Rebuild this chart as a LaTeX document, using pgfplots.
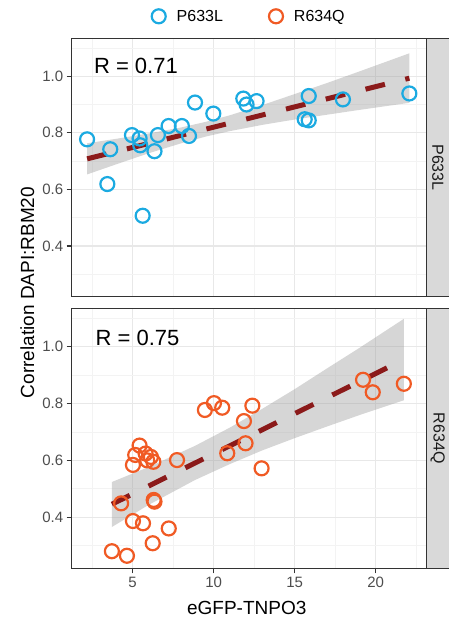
\documentclass[border=0pt]{standalone}
\usepackage{fontspec}
\setmainfont{Liberation Sans}
\usepackage{pgfplots}
\pgfplotsset{compat=1.18}

\definecolor{cblue}{RGB}{27,170,225}
\definecolor{corange}{RGB}{240,90,36}
\definecolor{fitred}{RGB}{139,26,26}
\definecolor{bandgray}{RGB}{153,153,153}
\definecolor{stripgray}{RGB}{217,217,217}
\definecolor{border}{RGB}{51,51,51}
\definecolor{tickgray}{RGB}{77,77,77}
\definecolor{gridmajor}{RGB}{232,232,232}
\definecolor{gridminor}{RGB}{243,243,243}

\pgfplotsset{
  panel/.style={
    scale only axis, width=355pt, anchor=south west,
    xmin=1.24, xmax=23.15, ymin=0.221, ymax=1.134,
    xtick={5,10,15,20}, minor xtick={2.5,7.5,12.5,17.5,22.5},
    ytick={0.4,0.6,0.8,1.0}, minor ytick={0.3,0.5,0.7,0.9,1.1},
    grid=both,
    major grid style={draw=gridmajor, line width=1.2pt},
    minor grid style={draw=gridminor, line width=0.7pt},
    axis line style={draw=border, line width=1.5pt},
    tick align=outside, tick pos=left,
    major tick length=5pt, minor tick length=0pt,
    tick style={draw=border, line width=1.2pt},
    /pgf/number format/assume math mode=true,
    yticklabel style={font=\fontsize{15}{18}\selectfont, text=tickgray,
      /pgf/number format/.cd, fixed, fixed zerofill, precision=1},
    xticklabel style={font=\fontsize{15}{18}\selectfont, text=tickgray},
    clip=false,
  },
  pts/.style={only marks, mark=o, mark size=7pt, line width=2.2pt},
  band/.style={draw=none, fill=bandgray, fill opacity=0.4, forget plot},
  fit/.style={fitred, line width=5pt, dash pattern=on 20pt off 21pt, forget plot},
}

\begin{document}
\begin{tikzpicture}
\path[use as bounding box] (0pt,0pt) rectangle (449pt,618pt);

% strips
\filldraw[fill=stripgray, draw=border, line width=1.5pt] (426.7pt,321.3pt) rectangle (452pt,579.7pt);
\filldraw[fill=stripgray, draw=border, line width=1.5pt] (426.7pt,49.7pt) rectangle (452pt,309.7pt);
\node[rotate=-90, font=\fontsize{16}{19}\selectfont, text={rgb,255:red,26;green,26;blue,26}] at (437.8pt,450.5pt) {P633L};
\node[rotate=-90, font=\fontsize{16}{19}\selectfont, text={rgb,255:red,26;green,26;blue,26}] at (437.8pt,179.7pt) {R634Q};

% top panel
\begin{axis}[panel, at={(71.7pt,321.3pt)}, height=258.4pt,
  xticklabels={}, x tick style={draw=none},
  legend columns=2,
  legend style={at={(0.5,1)}, anchor=center, yshift=22pt, draw=none, fill=none,
    font=\fontsize{16}{19}\selectfont,
    /tikz/every odd column/.append style={column sep=9pt},
    /tikz/every even column/.append style={column sep=44pt}},
]
\addplot[pts, cblue] coordinates {
(2.19,0.777) (3.62,0.742) (3.44,0.619) (5.62,0.507) (4.96,0.792) (5.43,0.780)
(5.47,0.756) (6.35,0.735) (6.56,0.792) (7.22,0.824) (8.04,0.824) (8.48,0.789)
(8.85,0.907) (9.98,0.868) (11.83,0.921) (12.03,0.900) (12.65,0.912)
(15.87,0.930) (15.62,0.848) (15.87,0.844) (17.98,0.918) (22.08,0.939)
};
\addlegendentry{P633L}
\addplot[band] coordinates {
(2.19,0.763) (4,0.779) (6,0.798) (8,0.819) (9.53,0.839) (11,0.862) (13,0.898)
(15,0.937) (17,0.976) (19,1.017) (22.08,1.081)
(22.08,0.906) (19,0.881) (17,0.864) (15,0.847) (13,0.828) (11,0.806) (9.53,0.787)
(8,0.763) (6,0.728) (4,0.689) (2.19,0.653)
} -- cycle;
\addplot[fit] coordinates {(2.19,0.708) (22.08,0.993)};
\addlegendimage{pts, corange}
\addlegendentry{R634Q}
\node[anchor=west, font=\fontsize{22}{26}\selectfont] at (axis cs:2.4,1.035) {R = 0.71};
\end{axis}

% bottom panel
\begin{axis}[panel, at={(71.7pt,49.7pt)}, height=260pt]
\addplot[pts, corange] coordinates {
(3.72,0.281) (4.65,0.265) (4.29,0.449) (5.02,0.387) (5.64,0.379) (6.24,0.309)
(7.23,0.361) (6.30,0.461) (6.35,0.455) (5.02,0.584) (5.16,0.619) (5.43,0.652)
(5.80,0.624) (6.13,0.612) (6.28,0.595) (5.90,0.600) (7.74,0.601) (9.46,0.777)
(10.02,0.801) (10.53,0.785) (11.87,0.738) (12.39,0.792) (10.84,0.625)
(11.97,0.660) (12.96,0.572) (19.22,0.883) (19.82,0.839) (21.74,0.869)
};
\addplot[band] coordinates {
(3.72,0.524) (6,0.577) (8.85,0.651) (11,0.715) (13,0.781) (15,0.850) (17,0.923)
(19,0.995) (21.74,1.097)
(21.74,0.811) (19,0.759) (17,0.719) (15,0.678) (13,0.635) (11,0.587) (8.85,0.531)
(6,0.444) (3.72,0.366)
} -- cycle;
\addplot[fit] coordinates {(3.72,0.446) (21.74,0.954)};
\node[anchor=west, font=\fontsize{22}{26}\selectfont] at (axis cs:2.5,1.031) {R = 0.75};
\end{axis}

% axis titles
\node[rotate=90, anchor=base, font=\fontsize{19}{22}\selectfont] at (34pt,325.5pt) {Correlation DAPI:RBM20};
\node[anchor=base, font=\fontsize{19}{22}\selectfont] at (246.7pt,3pt) {eGFP-TNPO3};
\end{tikzpicture}
\end{document}
